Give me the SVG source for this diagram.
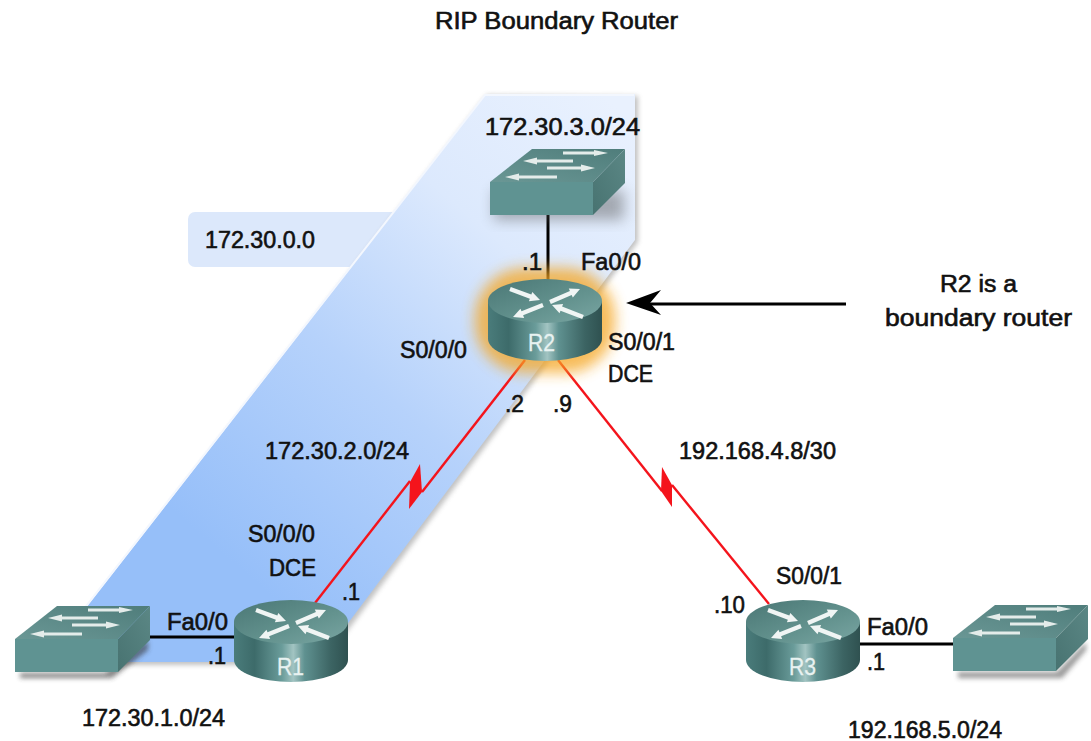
<svg xmlns="http://www.w3.org/2000/svg" xmlns:xlink="http://www.w3.org/1999/xlink" width="1091" height="741" viewBox="0 0 1091 741">
<style>
text{font-family:"Liberation Sans",Arial,sans-serif;font-size:23px;fill:#111;stroke:#111;stroke-width:.6px}
.w{fill:#e8f2f1;stroke:#e8f2f1;stroke-width:.3px;font-size:23px}
.blk{stroke:#000;stroke-width:3;fill:none}
.red{stroke:#f4141c;stroke-width:2.4;fill:none}
.bolt{fill:#f4141c}
.a{fill:#f0f5f4}
.b{fill:#e4ecea}
</style>
<defs>
<linearGradient id="band" gradientUnits="userSpaceOnUse" x1="620" y1="110" x2="230" y2="560">
<stop offset="0" stop-color="#e9f1fe"/><stop offset=".3" stop-color="#dce9fd"/><stop offset=".62" stop-color="#b6d2fb"/><stop offset="1" stop-color="#96bff9"/>
</linearGradient>
<linearGradient id="rt" x1="0" y1="0" x2="1" y2="1">
<stop offset="0" stop-color="#4a7775"/><stop offset=".6" stop-color="#64938f"/><stop offset="1" stop-color="#7aa6a3"/>
</linearGradient>
<linearGradient id="rb" x1="0" y1="0" x2="1" y2="0">
<stop offset="0" stop-color="#4a7c7b"/><stop offset=".18" stop-color="#3d6b6a"/><stop offset=".42" stop-color="#6a9c9a"/><stop offset=".52" stop-color="#a2c4c2"/><stop offset=".62" stop-color="#5f9190"/><stop offset=".85" stop-color="#3c6463"/><stop offset="1" stop-color="#2f5150"/>
</linearGradient>
<linearGradient id="st" x1="0" y1="1" x2="1" y2="0">
<stop offset="0" stop-color="#6a9795"/><stop offset="1" stop-color="#4f7d7b"/>
</linearGradient>
<linearGradient id="ss" x1="0" y1="1" x2="1" y2="0">
<stop offset="0" stop-color="#487371"/><stop offset="1" stop-color="#5b8785"/>
</linearGradient>
<filter id="b2" x="-20%" y="-20%" width="140%" height="140%"><feGaussianBlur stdDeviation="2.5"/></filter>
<filter id="b6" x="-40%" y="-40%" width="180%" height="180%"><feGaussianBlur stdDeviation="7"/></filter>
<g id="router">
<path d="M-57 0V38A57 22 0 0 0 57 38V0Z" fill="url(#rb)"/>
<ellipse cx="0" cy="0" rx="57" ry="22" fill="url(#rt)"/>
<polygon class="a" points="-35.75,-9.93 -34.25,-14.07 -13.65,-6.47 -12.7,-9.1 -5,-1 -16.1,.3 -15.15,-2.33"/>
<polygon class="a" points="5.88,3.02 4.12,-1.02 24.92,-10.02 23.8,-12.6 35,-12 27.8,-3.4 26.68,-5.98"/>
<polygon class="a" points="-1.19,6.05 -2.81,1.95 -23.51,10.25 -24.55,7.65 -32,16 -20.85,16.95 -21.89,14.35"/>
<polygon class="a" points="37.21,18.05 38.79,13.95 17.09,5.55 18.1,2.95 7,4 14.5,12.25 15.51,9.65"/>
</g>
<g id="switch">
<polygon points="42,-33 135,-33 103,0 0,0" fill="url(#st)"/>
<rect x="0" y="0" width="103" height="33" fill="#5f9392"/>
<polygon points="103,0 135,-33 135,1 103,33" fill="url(#ss)"/>
<polygon class="b" points="73,-30.5 104,-30.5 104,-32 118,-29 104,-26 104,-27.5 73,-27.5"/>
<polygon class="b" points="83,-22.5 47,-22.5 47,-24.5 33,-21 47,-17.5 47,-19.5 83,-19.5"/>
<polygon class="b" points="57,-15.5 91,-15.5 91,-17.5 105,-14 91,-10.5 91,-12.5 57,-12.5"/>
<polygon class="b" points="67,-6.5 29,-6.5 29,-8.5 15,-5 29,-1.5 29,-3.5 67,-3.5"/>
</g>
</defs>
<rect width="1091" height="741" fill="#fff"/>

<g id="region-172-30-0-0">
<rect x="188" y="212" width="220" height="55" rx="7" fill="#dce8fb"/>
<polygon points="487,95 638,96 638,242 322,665 46,665" fill="#666" opacity=".4" filter="url(#b2)"/>
<polygon points="486,94 635,94 635,240 319,662 44,662" fill="url(#band)"/>
<polyline points="44,660 485,95 634,95" stroke="#f3f7fe" stroke-width="2" fill="none"/>
<text x="205" y="248" textLength="110" lengthAdjust="spacingAndGlyphs">172.30.0.0</text>
</g>

<g id="connectors">
<line class="blk" x1="548" y1="214" x2="548" y2="282"/>
<line class="blk" x1="150" y1="637" x2="236" y2="637"/>
<line class="blk" x1="859" y1="644" x2="954" y2="644"/>
<polyline class="red" points="525,360 422,492"/>
<polygon class="bolt" points="410,482 420,464 422,492 409,509"/>
<polyline class="red" points="410,481 315,603"/>
<polyline class="red" points="558,360 662,491"/>
<polygon class="bolt" points="662,467 672,485 672,507 661,491"/>
<polyline class="red" points="672,485 769,604"/>
<line class="blk" x1="846" y1="304" x2="640" y2="304"/>
<polygon points="626,303 661,290 650,303 661,315" fill="#000"/>
</g>

<g id="switch-172-30-3-0">
<rect x="494" y="190" width="130" height="30" fill="#555" opacity=".45" filter="url(#b6)"/>
<use xlink:href="#switch" href="#switch" x="490" y="182"/>
<text x="485" y="135" textLength="155" lengthAdjust="spacingAndGlyphs">172.30.3.0/24</text>
</g>
<g id="switch-172-30-1-0">
<path d="M20 673H105L148 640V650L112 678H20Z" fill="#333" opacity=".6" filter="url(#b2)"/>
<use xlink:href="#switch" href="#switch" x="15" y="639"/>
<text x="82" y="726" textLength="143" lengthAdjust="spacingAndGlyphs">172.30.1.0/24</text>
</g>
<g id="switch-192-168-5-0">
<path d="M958 672H1057L1086 642V650L1062 678H958Z" fill="#333" opacity=".5" filter="url(#b2)"/>
<use xlink:href="#switch" href="#switch" x="953" y="638"/>
<text x="848" y="738" textLength="154" lengthAdjust="spacingAndGlyphs">192.168.5.0/24</text>
</g>

<g id="R2">
<rect x="475" y="268" width="140" height="105" rx="50" fill="#f5a623" opacity=".75" filter="url(#b6)"/>
<use xlink:href="#router" href="#router" x="545" y="301"/>
<text class="w" x="528" y="351" textLength="27" lengthAdjust="spacingAndGlyphs">R2</text>
</g>
<g id="R1">
<use xlink:href="#router" href="#router" x="291" y="622"/>
<text class="w" x="277" y="675" textLength="27" lengthAdjust="spacingAndGlyphs">R1</text>
</g>
<g id="R3">
<use xlink:href="#router" href="#router" x="803" y="622"/>
<text class="w" x="789" y="675" textLength="27" lengthAdjust="spacingAndGlyphs">R3</text>
</g>

<g id="labels">
<text x="435" y="29" textLength="243" lengthAdjust="spacingAndGlyphs">RIP Boundary Router</text>
<text x="522" y="270" textLength="20" lengthAdjust="spacingAndGlyphs">.1</text>
<text x="581" y="270" textLength="60" lengthAdjust="spacingAndGlyphs">Fa0/0</text>
<text x="940" y="292" textLength="77" lengthAdjust="spacingAndGlyphs">R2 is a</text>
<text x="885" y="326" textLength="187" lengthAdjust="spacingAndGlyphs">boundary router</text>
<text x="400" y="358" textLength="67" lengthAdjust="spacingAndGlyphs">S0/0/0</text>
<text x="608" y="350" textLength="67" lengthAdjust="spacingAndGlyphs">S0/0/1</text>
<text x="608" y="382" textLength="45" lengthAdjust="spacingAndGlyphs">DCE</text>
<text x="505" y="412" textLength="19" lengthAdjust="spacingAndGlyphs">.2</text>
<text x="553" y="412" textLength="19" lengthAdjust="spacingAndGlyphs">.9</text>
<text x="265" y="459" textLength="144" lengthAdjust="spacingAndGlyphs">172.30.2.0/24</text>
<text x="679" y="459" textLength="157" lengthAdjust="spacingAndGlyphs">192.168.4.8/30</text>
<text x="248" y="542" textLength="67" lengthAdjust="spacingAndGlyphs">S0/0/0</text>
<text x="269" y="576" textLength="47" lengthAdjust="spacingAndGlyphs">DCE</text>
<text x="342" y="600" textLength="18" lengthAdjust="spacingAndGlyphs">.1</text>
<text x="167" y="630" textLength="61" lengthAdjust="spacingAndGlyphs">Fa0/0</text>
<text x="208" y="664" textLength="18" lengthAdjust="spacingAndGlyphs">.1</text>
<text x="714" y="613" textLength="31" lengthAdjust="spacingAndGlyphs">.10</text>
<text x="776" y="584" textLength="66" lengthAdjust="spacingAndGlyphs">S0/0/1</text>
<text x="867" y="635" textLength="61" lengthAdjust="spacingAndGlyphs">Fa0/0</text>
<text x="867" y="670" textLength="18" lengthAdjust="spacingAndGlyphs">.1</text>
</g>
</svg>
